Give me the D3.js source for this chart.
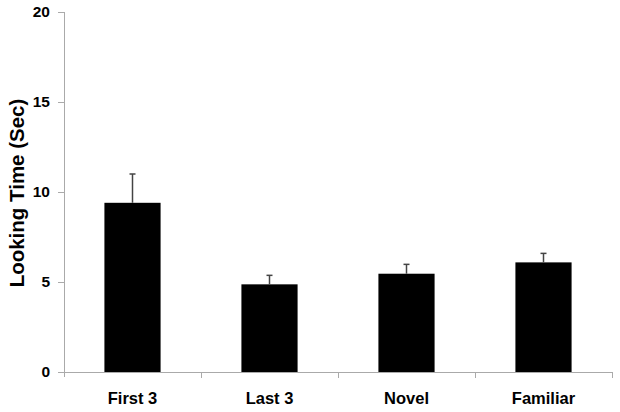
<!DOCTYPE html>
<html><head><meta charset="utf-8">
<script src="https://cdn.jsdelivr.net/npm/d3@7"></script>
<style>body{margin:0;background:#fff}svg{display:block}</style>
</head><body>
<script>
const categories = ["First 3", "Last 3", "Novel", "Familiar"];
const means = [9.4, 4.87, 5.46, 6.09];
const errors = [1.6, 0.5, 0.52, 0.5];
const yTicks = [0, 5, 10, 15, 20];
const yTitle = "Looking Time (Sec)";

const W = 620, H = 412;
const svg = d3.select("body").append("svg").attr("width", W).attr("height", H);

const x = d3.scaleBand().domain(categories).range([64, 612]).paddingInner(0.59).paddingOuter(0.295);
const y = d3.scaleLinear().domain([0, 20]).range([372, 12]);

const axisColor = "#aaa";
const font = "'Liberation Sans', Arial, sans-serif";
// y axis
const ya = svg.append("g").attr("transform", "translate(64,0)")
  .call(d3.axisLeft(y).tickValues(yTicks).tickSize(6).tickPadding(8).tickSizeOuter(0));
ya.select(".domain").remove();
ya.selectAll(".tick line").attr("stroke", axisColor);
ya.selectAll(".tick text").attr("fill", "#000").style("font-family", font)
  .style("font-weight", "bold").style("font-size", "15.5px");
svg.append("line").attr("x1", 64.5).attr("x2", 64.5).attr("y1", y(20)).attr("y2", y(0) + 5).attr("stroke", axisColor);

// x axis baseline and boundary ticks
const bounds = [0, 1, 2, 3, 4].map(i => 64 + i * (612 - 64) / 4);
svg.append("line").attr("x1", 64).attr("x2", 612).attr("y1", y(0) + 0.5).attr("y2", y(0) + 0.5).attr("stroke", axisColor);
svg.selectAll(".bt").data(bounds.slice(1)).enter().append("line")
  .attr("x1", d => d + 0.5).attr("x2", d => d + 0.5).attr("y1", y(0)).attr("y2", y(0) + 6).attr("stroke", axisColor);

// bars
svg.selectAll(".bar").data(categories).enter().append("rect")
  .attr("x", d => x(d)).attr("width", x.bandwidth())
  .attr("y", (d, i) => y(means[i])).attr("height", (d, i) => y(0) - y(means[i]))
  .attr("fill", "#000");

// error bars (upper only)
const eg = svg.selectAll(".err").data(categories).enter().append("g");
eg.append("line").attr("x1", d => x(d) + x.bandwidth() / 2).attr("x2", d => x(d) + x.bandwidth() / 2)
  .attr("y1", (d, i) => y(means[i])).attr("y2", (d, i) => y(means[i] + errors[i]))
  .attr("stroke", "#444").attr("stroke-width", 1.5);
eg.append("line").attr("x1", d => x(d) + x.bandwidth() / 2 - 3).attr("x2", d => x(d) + x.bandwidth() / 2 + 3)
  .attr("y1", (d, i) => y(means[i] + errors[i])).attr("y2", (d, i) => y(means[i] + errors[i]))
  .attr("stroke", "#444").attr("stroke-width", 1.5);

// x labels
svg.selectAll(".xl").data(categories).enter().append("text")
  .attr("x", d => x(d) + x.bandwidth() / 2).attr("y", 404)
  .attr("text-anchor", "middle").style("font-family", font)
  .style("font-weight", "bold").style("font-size", "16.5px").text(d => d);

// y title
svg.append("text").attr("transform", "translate(24,193) rotate(-90)")
  .attr("text-anchor", "middle").style("font-family", font)
  .style("font-weight", "bold").style("font-size", "20.5px").text(yTitle);
</script>
</body></html>
